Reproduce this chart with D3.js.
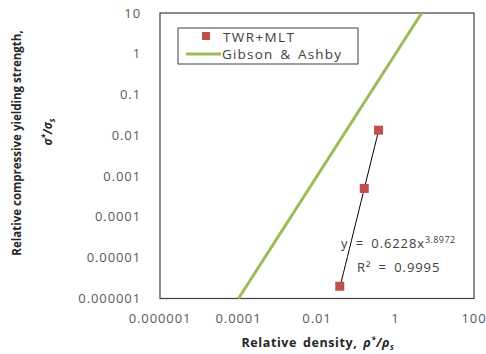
<!DOCTYPE html>
<html>
<head>
<meta charset="utf-8">
<script src="https://cdn.jsdelivr.net/npm/d3@7"></script>
<style>
  body { margin: 0; background: #fff; }
  text { font-family: "Open Sans", "Noto Sans", sans-serif; }
</style>
</head>
<body>
<svg id="chart"></svg>
<script>
// chart data
let xTicks = [0.000001, 0.0001, 0.01, 1, 100];
let yTicks = [0.000001, 0.00001, 0.0001, 0.001, 0.01, 0.1, 1, 10];
let twrX = [0.37, 0.16, 0.038];
let twrY = [0.0134, 0.0005, 0.000002];
let gibsonX = [0.0001, 4.64];
let gibsonY = [0.000001, 10];
let fitA = 0.6228, fitB = 3.8972;

let width = 486, height = 354;
let plot = { left: 160, right: 474, top: 13, bottom: 298.5 };

let svg = d3.select("#chart")
    .attr("width", width)
    .attr("height", height);

let x = d3.scaleLog().domain([0.000001, 100]).range([plot.left, plot.right]);
let y = d3.scaleLog().domain([0.000001, 10]).range([plot.bottom, plot.top]);

let fmt = d => {
  let s = d.toFixed(6);
  return s.replace(/\.?0+$/, "");
};

// plot frame
svg.append("rect")
  .attr("x", plot.left).attr("y", plot.top)
  .attr("width", plot.right - plot.left)
  .attr("height", plot.bottom - plot.top)
  .attr("fill", "none")
  .attr("stroke", "#404040")
  .attr("stroke-width", 1.2);

// y tick labels
svg.selectAll(".ylab")
  .data(yTicks)
.enter().append("text")
  .attr("class", "ylab")
  .attr("x", plot.left - 19)
  .attr("y", d => y(d))
  .attr("dy", "0.35em")
  .attr("text-anchor", "end")
  .attr("fill", "#595959")
  .style("font-size", "13px")
  .style("letter-spacing", "0.9px")
  .text(fmt);

// x tick labels
svg.selectAll(".xlab")
  .data(xTicks)
.enter().append("text")
  .attr("class", "xlab")
  .attr("x", d => x(d))
  .attr("y", 323)
  .attr("text-anchor", "middle")
  .attr("fill", "#595959")
  .style("font-size", "13px")
  .style("letter-spacing", "0.9px")
  .text(fmt);

// Gibson & Ashby line
svg.append("line")
  .attr("x1", x(gibsonX[0])).attr("y1", y(gibsonY[0]))
  .attr("x2", x(gibsonX[1])).attr("y2", y(gibsonY[1]))
  .attr("stroke", "#9BBB59")
  .attr("stroke-width", 3);

// power trendline
let xmin = d3.min(twrX), xmax = d3.max(twrX);
let fitPts = d3.range(0, 21).map(i => {
  let xv = Math.exp(Math.log(xmin) + i / 20 * (Math.log(xmax) - Math.log(xmin)));
  return [xv, fitA * Math.pow(xv, fitB)];
});
svg.append("path")
  .datum(fitPts)
  .attr("fill", "none")
  .attr("stroke", "#000")
  .attr("stroke-width", 1)
  .attr("d", d3.line().x(d => x(d[0])).y(d => y(d[1])));

// data points
svg.selectAll(".pt")
  .data(twrX)
.enter().append("rect")
  .attr("class", "pt")
  .attr("x", (d) => x(d) - 4.5)
  .attr("y", (d, i) => y(twrY[i]) - 4.5)
  .attr("width", 9).attr("height", 9)
  .attr("fill", "#C0504D");

// equation
let eq = svg.append("text")
  .attr("x", 341).attr("y", 248)
  .attr("fill", "#404040")
  .style("font-size", "13px")
  .style("letter-spacing", "0.9px")
  .style("word-spacing", "3px");
eq.append("tspan").text("y = " + fitA + "x");
eq.append("tspan").attr("dy", "-5").style("font-size", "9px").style("letter-spacing", "0.4px").text(fitB);
svg.append("text")
  .attr("x", 357).attr("y", 272)
  .attr("fill", "#404040")
  .style("font-size", "13px")
  .style("letter-spacing", "0.9px")
  .style("word-spacing", "3px")
  .text("R\u00B2 = 0.9995");

// legend
let legend = svg.append("g");
legend.append("rect")
  .attr("x", 178).attr("y", 28)
  .attr("width", 180).attr("height", 36)
  .attr("fill", "#fff")
  .attr("stroke", "#404040");
legend.append("rect")
  .attr("x", 202).attr("y", 32)
  .attr("width", 8).attr("height", 8)
  .attr("fill", "#C0504D");
legend.append("text")
  .attr("x", 223).attr("y", 42)
  .attr("fill", "#404040")
  .style("font-size", "13.5px")
  .style("letter-spacing", "1.4px")
  .text("TWR+MLT");
legend.append("line")
  .attr("x1", 186).attr("x2", 221)
  .attr("y1", 54).attr("y2", 54)
  .attr("stroke", "#9BBB59")
  .attr("stroke-width", 3);
legend.append("text")
  .attr("x", 222).attr("y", 59)
  .attr("fill", "#404040")
  .style("font-size", "13.5px")
  .style("letter-spacing", "1.2px")
  .style("word-spacing", "2px")
  .text("Gibson & Ashby");

// axis titles
svg.append("text")
  .attr("transform", "translate(21,143) rotate(-90)")
  .attr("text-anchor", "middle")
  .attr("fill", "#262626")
  .style("font-size", "11.5px")
  .style("font-weight", "bold")
  .text("Relative compressive yielding strength,");
let ysub = svg.append("text")
  .attr("transform", "translate(52,132) rotate(-90)")
  .attr("text-anchor", "middle")
  .attr("fill", "#262626")
  .style("font-size", "11.5px")
  .style("font-weight", "bold")
  .style("font-style", "italic");
ysub.append("tspan").text("\u03C3");
ysub.append("tspan").attr("dy", "-4").style("font-size", "8px").text("*");
ysub.append("tspan").attr("dy", "4").text("/\u03C3");
ysub.append("tspan").attr("dy", "3").style("font-size", "8px").text("s");

let xtitle = svg.append("text")
  .attr("x", 318).attr("y", 347)
  .attr("text-anchor", "middle")
  .attr("fill", "#262626")
  .style("font-size", "12.5px")
  .style("font-weight", "bold")
  .style("letter-spacing", "0.6px")
  .style("word-spacing", "2px");
xtitle.append("tspan").text("Relative density, ");
xtitle.append("tspan").style("font-style", "italic").text("\u03C1");
xtitle.append("tspan").attr("dy", "-4").style("font-size", "8px").style("font-style", "italic").text("*");
xtitle.append("tspan").attr("dy", "4").style("font-style", "italic").text("/\u03C1");
xtitle.append("tspan").attr("dy", "3").style("font-size", "8px").style("font-style", "italic").text("s");
</script>
</body>
</html>
